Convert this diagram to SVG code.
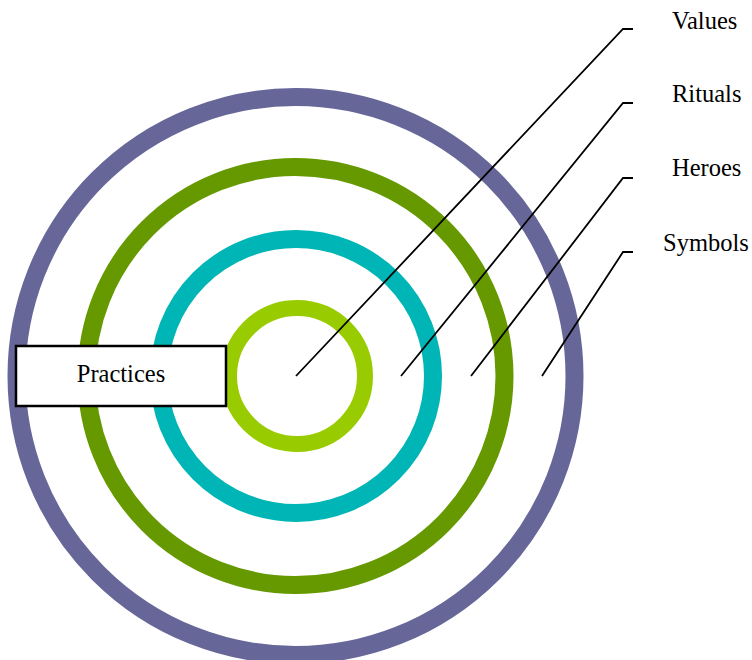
<svg xmlns="http://www.w3.org/2000/svg" width="752" height="660" viewBox="0 0 752 660">
<style>
.ring{fill:none}
.lbl{font-family:"Liberation Serif","Times New Roman",serif;font-size:24.5px;fill:#000}
.lead{fill:none;stroke:#000;stroke-width:1.8}
</style>
<rect width="752" height="660" fill="#fff"/>
<g id="symbols-ring"><circle class="ring" cx="295.5" cy="376" r="279" stroke="#666699" stroke-width="18"/></g>
<g id="heroes-ring"><circle class="ring" cx="295.5" cy="376" r="209" stroke="#669900" stroke-width="18"/></g>
<g id="rituals-ring"><circle class="ring" cx="296" cy="376" r="137" stroke="#00B5B5" stroke-width="18"/></g>
<g id="values-ring"><circle class="ring" cx="297" cy="376" r="68" stroke="#99CC00" stroke-width="16"/></g>
<g id="practices">
<rect x="16" y="346" width="210" height="60" fill="#fff" stroke="#000" stroke-width="2.5"/>
<text class="lbl" x="121" y="382" text-anchor="middle">Practices</text>
</g>
<g id="connectors">
<polyline class="lead" points="633,29 623,29 296,376"/>
<polyline class="lead" points="633,103 623,103 401,376"/>
<polyline class="lead" points="633,178 623,178 471,376"/>
<polyline class="lead" points="633,252 623,252 542,376"/>
</g>
<g id="values"><text class="lbl" x="672" y="29">Values</text></g>
<g id="rituals"><text class="lbl" x="672" y="102">Rituals</text></g>
<g id="heroes"><text class="lbl" x="672" y="176">Heroes</text></g>
<g id="symbols"><text class="lbl" x="663" y="251">Symbols</text></g>
</svg>
